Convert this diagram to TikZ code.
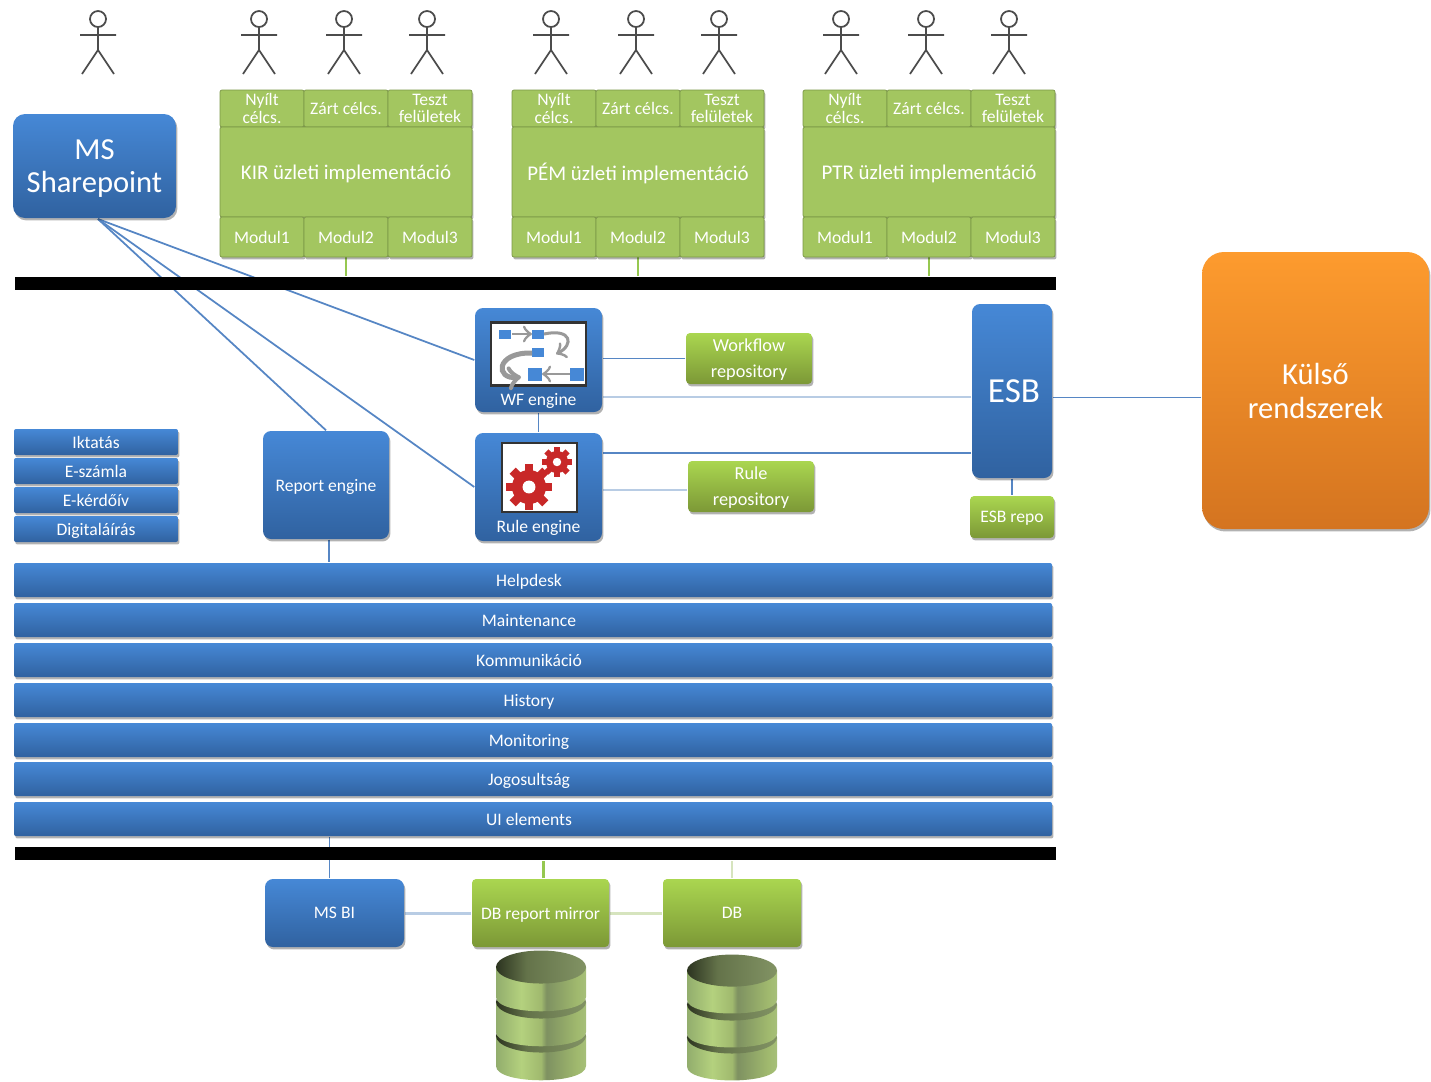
\documentclass[tikz,border=0pt]{standalone}
\usepackage{fontspec}
\setmainfont{Carlito}
\usetikzlibrary{backgrounds,shadows}
\definecolor{bluetop}{RGB}{70,136,214}
\definecolor{bluebot}{RGB}{48,98,160}
\definecolor{greentop}{RGB}{170,214,80}
\definecolor{greenbot}{RGB}{124,152,54}
\definecolor{cellgreen}{RGB}{163,198,96}
\definecolor{celledge}{RGB}{122,150,70}
\definecolor{orangetop}{RGB}{253,155,46}
\definecolor{orangebot}{RGB}{212,116,32}
\definecolor{linkblue}{RGB}{86,134,196}
\definecolor{linklight}{RGB}{184,204,228}
\definecolor{linkgreen}{RGB}{150,200,80}
\definecolor{linkpale}{RGB}{214,228,190}
\definecolor{gearred}{RGB}{200,40,40}
\definecolor{dbleft}{RGB}{146,173,109}
\definecolor{dblight}{RGB}{180,209,126}
\definecolor{dbmid}{RGB}{160,185,110}
\definecolor{dbdark}{RGB}{126,145,97}
\definecolor{dbright}{RGB}{166,191,121}
\definecolor{dbtopa}{RGB}{44,52,32}
\definecolor{dbtopb}{RGB}{100,115,74}
\definecolor{dbtopc}{RGB}{130,147,100}
\pgfdeclarehorizontalshading{dbbody}{100bp}{color(0bp)=(dbleft); color(25bp)=(dbleft); color(39bp)=(dblight); color(50bp)=(dbmid); color(53bp)=(dbdark); color(70bp)=(dbmid); color(75bp)=(dbright); color(100bp)=(dbright)}
\pgfdeclarehorizontalshading{dbtop}{100bp}{color(0bp)=(dbtopa); color(25bp)=(dbtopa); color(42bp)=(dbtopb); color(75bp)=(dbtopc); color(100bp)=(dbtopc)}
\tikzset{
  pxbox/.style 2 args={minimum width=#1*0.01cm,minimum height=#2*0.01cm,inner sep=0pt,text depth=0pt},
  softshadow/.style={drop shadow={shadow xshift=0.4pt,shadow yshift=-0.7pt,opacity=.3,fill=black}},
  bluebox/.style={top color=bluetop,bottom color=bluebot,text=white,align=center,rounded corners=0.08cm,softshadow},
  greenbox/.style={top color=greentop,bottom color=greenbot,text=white,align=center,rounded corners=0.04cm,softshadow},
  cell/.style={fill=cellgreen,draw=celledge,very thin,text=white,align=center,rounded corners=0.02cm,softshadow},
  big/.style={font=\fontsize{8.7}{9.6}\selectfont},
  mid/.style={font=\fontsize{5.95}{7.4}\selectfont},
  repo/.style={font=\fontsize{5.2}{7.4}\selectfont},
  small/.style={font=\fontsize{5}{4.9}\selectfont},
  bar/.style={fill=black,inner sep=0pt},
  linkb/.style={draw=linkblue,line width=0.5pt},
  linkl/.style={draw=linklight,line width=0.6pt},
  actor/.pic={
    \draw[black!70,line width=0.5pt] (0,-8) circle (0.08cm);
    \draw[black!70,line width=0.5pt] (0,0) -- (0,23) (-18,8) -- (18,8) (-16,47) -- (0,23) -- (16,47);
  },
  dbstack/.pic={
    \foreach \c in {84,50,15}{
      \path[shading=dbbody]
        (-45,\c) -- (-45,\c+30) .. controls (-45,\c+49) and (45,\c+49) .. (45,\c+30) -- (45,\c) -- cycle;
      \path[shading=dbtop] (0,\c) ellipse [x radius=0.45cm,y radius=0.165cm];
    }
  }
}
\begin{document}
\begin{tikzpicture}[x=0.01cm,y=-0.01cm]
  \useasboundingbox (0,0) rectangle (1431,1081);
  % users on top
  \pic at (98,27) {actor};
  \foreach \x in {259,344,427,551,636,719,841,926,1009}
    \pic at (\x,27) {actor};
  % business blocks
  \node[bar,pxbox={1041}{13}] (bustop) at (535.5,283.5) {};
  \node[bar,pxbox={1041}{13}] (busbottom) at (535.5,853.5) {};
  \foreach \grp/\x/\title in {kir/220/KIR,pem/512/PÉM,ptr/803/PTR}{
    \node[cell,small,pxbox={84}{37}] (\grp top1) at ({\x+42},108.5) {Nyílt\\célcs.};
    \node[cell,small,pxbox={84}{37}] (\grp top2) at ({\x+126},108.5) {Zárt célcs.};
    \node[cell,small,pxbox={84}{37}] (\grp top3) at ({\x+210},108.5) {Teszt\\felületek};
    \node[cell,mid,pxbox={252}{90}] (\grp main) at ({\x+126},172) {\title{} üzleti implementáció};
    \node[cell,small,pxbox={84}{40}] (\grp mod1) at ({\x+42},237) {Modul1};
    \node[cell,small,pxbox={84}{40}] (\grp mod2) at ({\x+126},237) {Modul2};
    \node[cell,small,pxbox={84}{40}] (\grp mod3) at ({\x+210},237) {Modul3};
  }
  \node[bluebox,big,pxbox={163}{104},rounded corners=0.12cm] (sharepoint) at (94.5,166) {MS\\Sharepoint};
  % engines
  \node[bluebox,pxbox={127}{104}] (wfengine) at (538.5,360) {};
  \node[draw=black!80,fill=white,semithick,pxbox={95}{63}] (wfpic) at (538.5,354) {};
  \node[text=white,font=\fontsize{5}{6}\selectfont,text depth=0pt] (wflabel) at (538.5,399) {WF engine};
  \foreach \a/\b in {499/330,532/330,532/348}
    \fill[bluetop] (\a,\b) rectangle +(12,9);
  \foreach \a/\b in {528/368,570/368}
    \fill[bluetop] (\a,\b) rectangle +(14,13);
  \draw[black!40,line width=0.03cm,->] (544,334) .. controls (572,328) and (574,345) .. (556,354);
  \draw[black!40,line width=0.05cm,->] (532,353) .. controls (495,352) and (495,380) .. (521,377);
  \draw[black!40,thick,->] (512,334) -- (532,334);
  \draw[black!40,thick,->] (570,374) -- (542,374);
  \node[bluebox,pxbox={127}{108}] (ruleengine) at (538.5,487) {};
  \node[draw=black!80,fill=white,semithick,pxbox={75}{69}] (rulepic) at (539.5,477.5) {};
  \node[text=white,font=\fontsize{5}{6}\selectfont,text depth=0pt] (rulelabel) at (538.5,526) {Rule engine};
  \foreach \cx/\cy/\r in {529/487/23,557/462/15}{
    \foreach \t in {0,45,...,315}
      \fill[gearred,shift={(\cx,\cy)},rotate=\t] (-0.19*\r,0) rectangle (0.19*\r,\r);
    \fill[gearred] (\cx,\cy) circle ({0.0074*\r cm});
    \fill[white] (\cx,\cy) circle ({0.0028*\r cm});
  }
  \node[greenbox,repo,pxbox={126}{51}] (wfrepo) at (749,358.5) {Workflow\\repository};
  \node[greenbox,repo,pxbox={126}{51}] (rulerepo) at (751,486.5) {Rule\\repository};
  % right side
  \node[bluebox,pxbox={80}{174},font=\fontsize{10}{11}\selectfont] (esb) at (1012,391) {\hspace*{0.04cm}ESB};
  \node[greenbox,small,pxbox={84}{42}] (esbrepo) at (1012,517) {ESB repo};
  \node[top color=orangetop,bottom color=orangebot,text=white,align=center,rounded corners=0.22cm,softshadow,big,pxbox={227}{277}] (kulso) at (1315.5,390.5) {Külső\\rendszerek};
  % left side
  \node[bluebox,small,pxbox={164}{26},rounded corners=0.02cm] (iktatas) at (96,442) {Iktatás};
  \node[bluebox,small,pxbox={164}{26},rounded corners=0.02cm] (eszamla) at (96,471) {E-számla};
  \node[bluebox,small,pxbox={164}{26},rounded corners=0.02cm] (ekerdoiv) at (96,500) {E-kérdőív};
  \node[bluebox,small,pxbox={164}{26},rounded corners=0.02cm] (digitalis) at (96,529) {Digitaláírás};
  \node[bluebox,small,pxbox={126}{108}] (reportengine) at (326,485) {Report engine};
  % service layers
  \foreach \y/\name/\txt in {580/helpdesk/Helpdesk,620/maintenance/Maintenance,660/kommunikacio/Kommunikáció,700/history/History,740/monitoring/Monitoring,779/jogosultsag/Jogosultság,819/uielements/UI elements}
    \node[bluebox,small,pxbox={1038}{34},rounded corners=0.02cm] (\name) at (533,\y) {\hspace*{-0.08cm}\txt};
  % data
  \node[bluebox,small,pxbox={139}{68}] (msbi) at (334.5,913) {MS BI};
  \node[greenbox,small,pxbox={137}{68}] (dbmirror) at (540.5,913) {DB report mirror};
  \node[greenbox,small,pxbox={138}{68}] (db) at (732,913) {DB};
  \pic at (541,952) {dbstack};
  \pic[yscale=.97] at (732,956) {dbstack};
  % connectors go behind the boxes
  \begin{scope}[on background layer]
    \coordinate (spout) at (98,219);
    \draw[linkb] (spout) -- (wfengine.west);
    \draw[linkb] (spout) -- (ruleengine.west);
    \draw[linkb] (spout) -- (reportengine.north);
    \foreach \grp in {kir,pem,ptr}
      \draw[linkgreen,line width=0.6pt] (\grp mod2.south) -- (\grp mod2.south |- bustop.north);
    \draw[linkb] (wfrepo.west) -- (wfrepo.west -| wfengine.east);
    \draw[linkl] ([yshift=-0.06cm]esb.west) -- ([yshift=-0.06cm]esb.west -| wfengine.east);
    \draw[linkb] ([yshift=-0.62cm]esb.west) -- ([yshift=-0.62cm]esb.west -| ruleengine.east);
    \draw[linkl] ([yshift=-0.035cm]rulerepo.west) -- ([yshift=-0.035cm]rulerepo.west -| ruleengine.east);
    \draw[linkb] (wfengine.south) -- (ruleengine.north);
    \draw[linkb] (esb.south) -- (esb.south |- esbrepo.north);
    \draw[linkb] ([yshift=-0.07cm]kulso.west) -- ([yshift=-0.07cm]kulso.west -| esb.east);
    \draw[linkb] ([xshift=0.03cm]reportengine.south) -- ([xshift=0.03cm]reportengine.south |- helpdesk.north);
    \draw[linkb] ([xshift=-0.05cm]msbi.north) -- ([xshift=-0.05cm]msbi.north |- uielements.south);
    \draw[linkgreen,line width=0.6pt] ([xshift=0.03cm]dbmirror.north) -- ([xshift=0.03cm]dbmirror.north |- busbottom.south);
    \draw[linkpale,line width=0.6pt] (db.north) -- (db.north |- busbottom.south);
    \draw[linklight,line width=0.03cm] (msbi.east) -- (dbmirror.west);
    \draw[linkpale,line width=0.03cm] (dbmirror.east) -- (db.west);
  \end{scope}
\end{tikzpicture}
\end{document}
